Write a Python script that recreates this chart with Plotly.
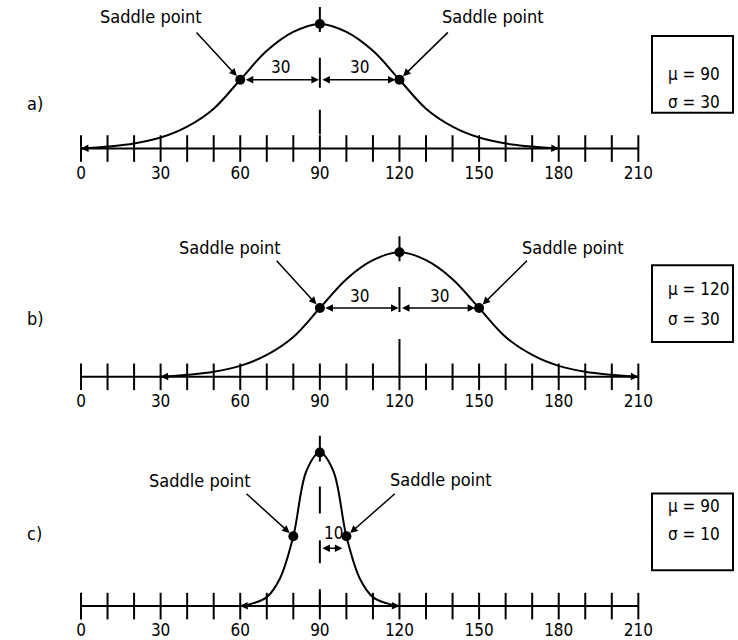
import plotly.graph_objects as go

FONT = "Liberation Sans Narrow, DejaVu Sans Condensed, Arial Narrow, sans-serif"
W, H = 738, 640

# axis ticks and labels (shared by the three panels)
tick_vals = list(range(0, 211, 10))
label_vals = list(range(0, 211, 30))

# curve heights (px above the number line)
curve_a_x = list(range(0, 181, 10))
curve_a_y = [0, 2, 5, 11, 22, 40, 69, 98, 117, 125, 117, 98, 69, 40, 22, 11, 5, 2, 0]
curve_b_x = list(range(30, 211, 10))
curve_b_y = [0, 2, 5, 11, 22, 40, 69, 98, 117, 125, 117, 98, 69, 40, 22, 11, 5, 2, 0]
curve_c_x = list(range(60, 121, 5))
curve_c_y = [0, 3, 9, 28, 70, 136, 154, 136, 70, 28, 9, 3, 0]

panel_names = ["a)", "b)", "c)"]
means = [90, 120, 90]
sigmas = [30, 30, 10]
peak_h = [125, 125, 154]
saddle_h = [69, 69, 70]

curves = [(curve_a_x, curve_a_y), (curve_b_x, curve_b_y), (curve_c_x, curve_c_y)]

# layout helpers (pixels)
PX_PER_UNIT = 2.654
X0_PX = 81
axis_px = [149, 378, 608]
top_px = [0, 215, 425]
BELOW = 8
box_px = [(36, 113), (266, 343), (495, 572)]
mu_line_px = [62, 290, 520]
sd_line_px = [90, 320, 548]
name_px = [91, 319, 548]
dim_h = [69, 69, 58]
dim_label_h = [82, 81, 73]
dash_segs = [
    [(117, 142), (61, 91), (14, 39)],
    [(116, 141), (65, 90), (13, 38)],
    [(145, 171), (93, 120), (43, 66), (0, 17)],
]
saddle_text = [
    [(26.4, 132), (155.4, 132)],
    [(56.2, 130), (185.5, 130)],
    [(44.9, 126), (135.7, 127)],
]
saddle_tail = [
    [(43, 118), (138.8, 118)],
    [(73.2, 118), (168.6, 118)],
    [(61.8, 114), (118.8, 114)],
]

xr = [-X0_PX / PX_PER_UNIT, (W - X0_PX) / PX_PER_UNIT]

fig = go.Figure()
annotations = []
shapes = []
layout = {}

for i in range(3):
    sfx = "" if i == 0 else str(i + 1)
    xa, ya = "x" + sfx, "y" + sfx
    mu, sd = means[i], sigmas[i]
    cx, cy = curves[i]

    # number line
    fig.add_trace(go.Scatter(x=[tick_vals[0], tick_vals[-1]], y=[0, 0], mode="lines",
                             line=dict(color="black", width=2), xaxis=xa, yaxis=ya,
                             hoverinfo="skip"))
    fig.add_trace(go.Scatter(x=tick_vals, y=[0] * len(tick_vals), mode="markers",
                             marker=dict(symbol="line-ns", size=19, line=dict(color="black", width=2)),
                             cliponaxis=False, xaxis=xa, yaxis=ya, hoverinfo="skip"))

    # mean dashes
    for lo, hi in dash_segs[i]:
        fig.add_trace(go.Scatter(x=[mu, mu], y=[lo, hi], mode="lines",
                                 line=dict(color="black", width=2), xaxis=xa, yaxis=ya,
                                 hoverinfo="skip"))

    # curve
    fig.add_trace(go.Scatter(x=cx, y=cy, mode="lines", line=dict(color="black", width=2, shape="spline", smoothing=1.0),
                             xaxis=xa, yaxis=ya, hoverinfo="skip"))

    # curve end arrows
    for xe, d in [(cx[0], 1), (cx[-1], -1)]:
        annotations.append(dict(x=xe, y=0, ax=xe + d * 4, ay=0.5, xref=xa, yref=ya, axref=xa, ayref=ya,
                                text="", showarrow=True, arrowhead=2, arrowsize=1, arrowwidth=1.5,
                                arrowcolor="black"))

    # peak and saddle points
    fig.add_trace(go.Scatter(x=[mu - sd, mu, mu + sd], y=[saddle_h[i], peak_h[i], saddle_h[i]],
                             mode="markers", marker=dict(color="black", size=10),
                             cliponaxis=False, xaxis=xa, yaxis=ya, hoverinfo="skip"))

    # dimension arrows
    if i < 2:
        spans = [(mu - sd, mu), (mu, mu + sd)]
    else:
        spans = [(mu, mu + sd)]
    for a0, a1 in spans:
        annotations.append(dict(x=a1, y=dim_h[i], ax=a0, ay=dim_h[i], xref=xa, yref=ya, axref=xa, ayref=ya,
                                text="", showarrow=True, arrowhead=2, startarrowhead=2, arrowside="end+start",
                                arrowsize=1, arrowwidth=1.5, arrowcolor="black",
                                standoff=4 if a1 != mu else 1, startstandoff=4 if a0 != mu else 1))
        annotations.append(dict(x=(a0 + a1) / 2, y=dim_label_h[i], xref=xa, yref=ya, text=str(sd),
                                showarrow=False, font=dict(size=17), yanchor="middle"))

    # saddle point labels and arrows
    for (tx, th), (sx, sh), px in zip(saddle_text[i], saddle_tail[i], [mu - sd, mu + sd]):
        annotations.append(dict(x=tx, y=th, xref=xa, yref=ya, text="Saddle point", showarrow=False,
                                font=dict(size=18)))
        annotations.append(dict(x=px, y=saddle_h[i], ax=sx, ay=sh, xref=xa, yref=ya, axref=xa, ayref=ya,
                                text="", showarrow=True, arrowhead=2, arrowsize=1, arrowwidth=1.5,
                                arrowcolor="black", standoff=5))

    # panel name
    annotations.append(dict(x=25 / W, y=1 - name_px[i] / H, xref="paper", yref="paper", text=panel_names[i],
                            showarrow=False, font=dict(size=18)))

    # parameter box
    b0, b1 = box_px[i]
    shapes.append(dict(type="rect", xref="paper", yref="paper", x0=652 / W, x1=733 / W,
                       y0=1 - b1 / H, y1=1 - b0 / H, line=dict(color="black", width=2)))
    annotations.append(dict(x=666 / W, y=1 - mu_line_px[i] / H, xref="paper", yref="paper",
                            text=f"μ = {mu}", xanchor="left", showarrow=False, font=dict(size=17)))
    annotations.append(dict(x=666 / W, y=1 - sd_line_px[i] / H, xref="paper", yref="paper",
                            text=f"σ = {sd}", xanchor="left", showarrow=False, font=dict(size=17)))

    # axes
    ytop = axis_px[i] - top_px[i]
    layout["xaxis" + sfx] = dict(domain=[0, 1], range=xr, anchor=ya, showgrid=False, zeroline=False,
                                 showline=False, ticks="", tickvals=label_vals,
                                 tickfont=dict(size=17, color="black"), ticklabelstandoff=4, fixedrange=True)
    layout["yaxis" + sfx] = dict(domain=[1 - (axis_px[i] + BELOW) / H, 1 - top_px[i] / H],
                                 range=[-BELOW, ytop], anchor=xa, visible=False, fixedrange=True)

fig.update_layout(
    width=W, height=H,
    margin=dict(l=0, r=0, t=0, b=0),
    paper_bgcolor="white", plot_bgcolor="white",
    showlegend=False,
    font=dict(family=FONT, color="black", size=17),
    annotations=annotations, shapes=shapes,
    **layout,
)

fig.write_html("out.html", config={"displayModeBar": False},
               post_script="document.body.style.margin='0';document.body.style.overflow='hidden';")
